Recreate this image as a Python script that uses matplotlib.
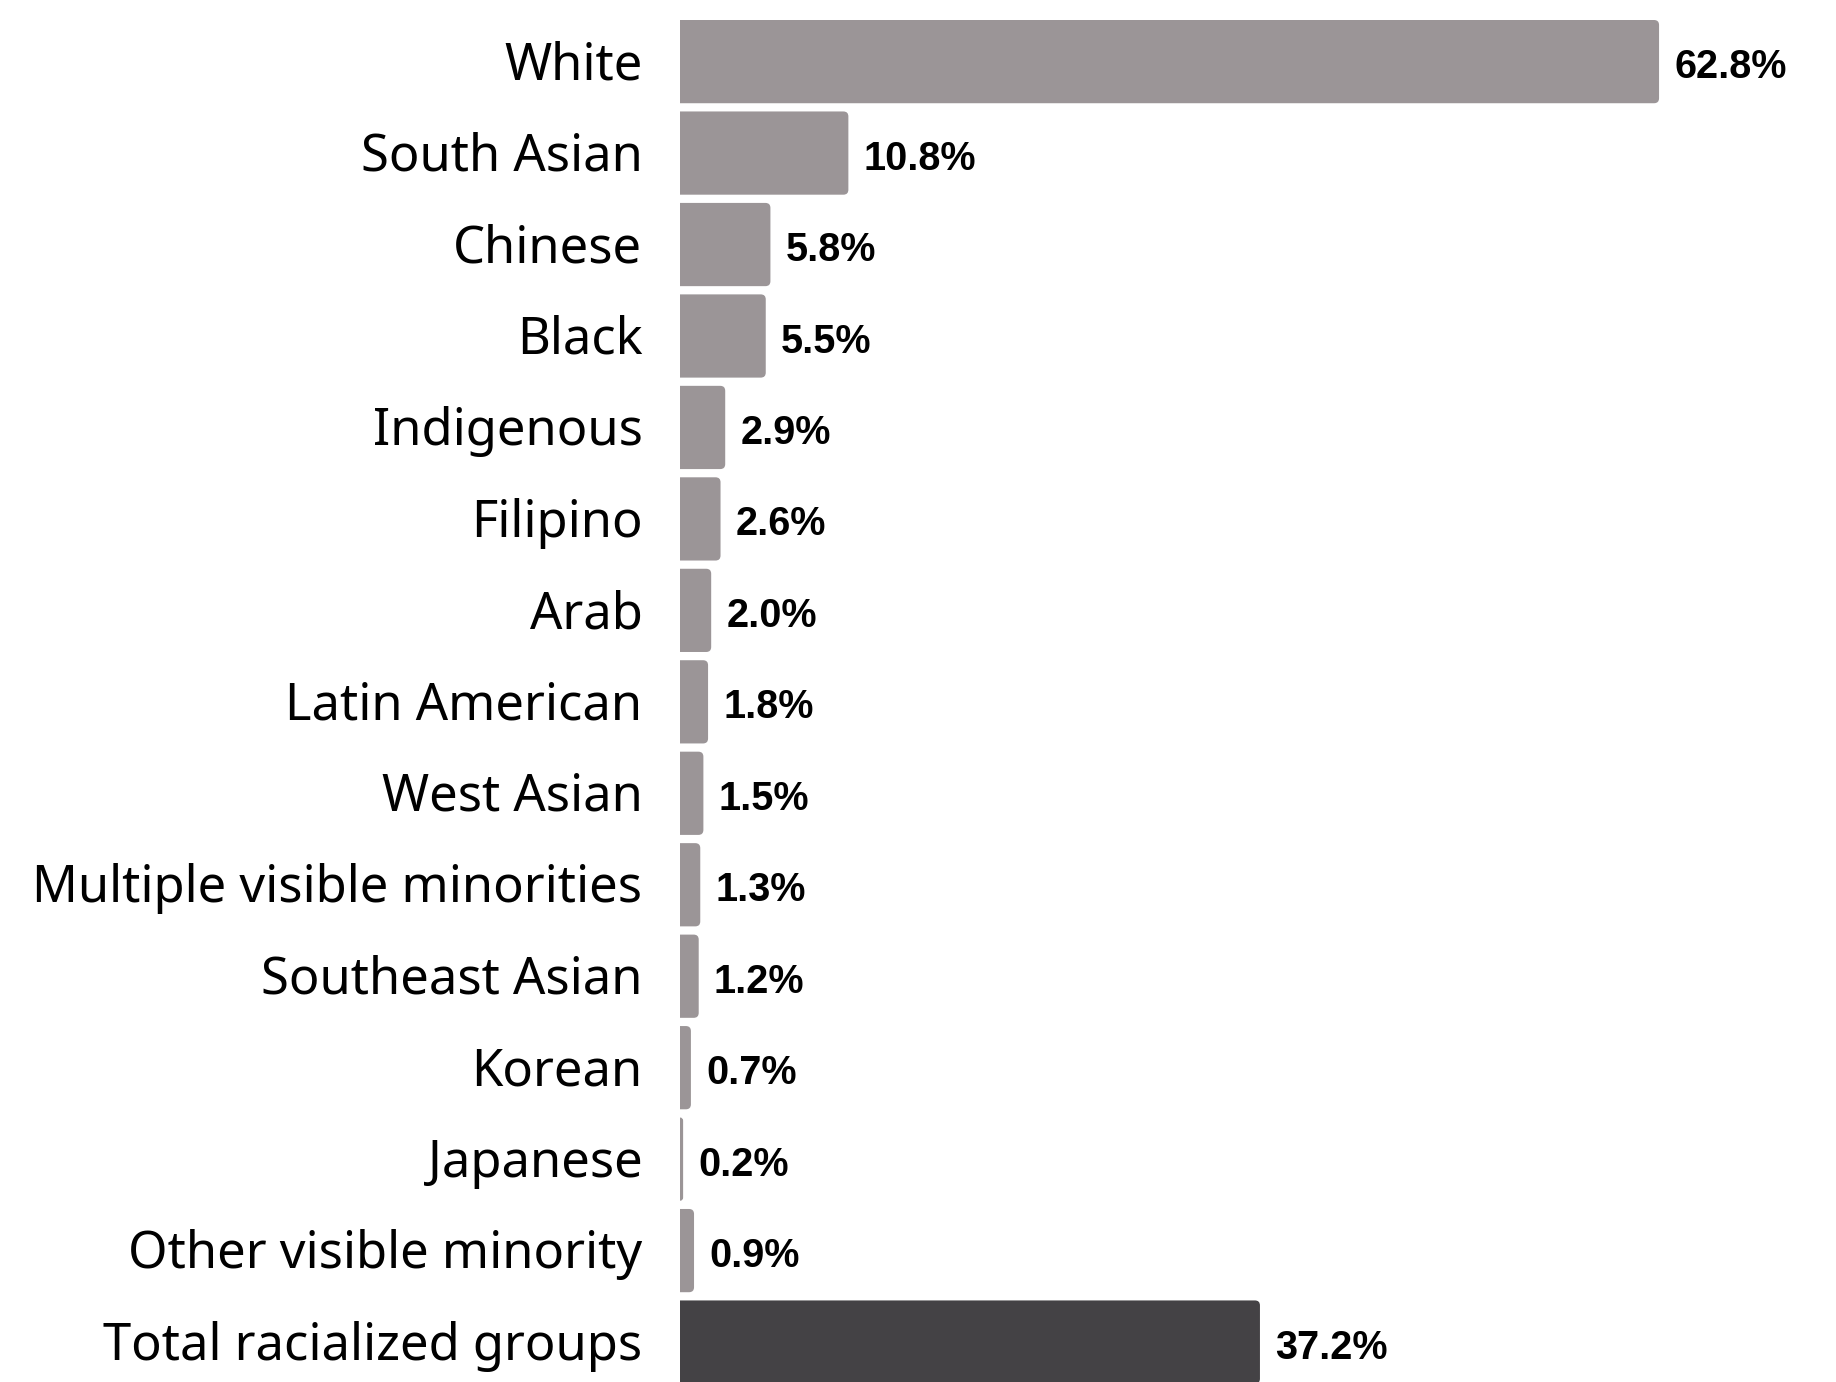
import matplotlib
matplotlib.use("Agg")
import matplotlib.pyplot as plt
from matplotlib.patches import FancyBboxPatch

# data
groups = ["White", "South Asian", "Chinese", "Black", "Indigenous", "Filipino", "Arab",
          "Latin American", "West Asian", "Multiple visible minorities", "Southeast Asian",
          "Korean", "Japanese", "Other visible minority", "Total racialized groups"]
shares = [62.8, 10.8, 5.8, 5.5, 2.9, 2.6, 2.0, 1.8, 1.5, 1.3, 1.2, 0.7, 0.2, 0.9, 37.2]

bar_color = "#9b9597"
total_color = "#444245"
label_font = "Noto Sans"
value_font = "Liberation Sans"

W, H = 1836, 1382
fig = plt.figure(figsize=(W / 100, H / 100), dpi=100)

left = 680 / W
pitch = 91.46      # px per row
px_per_unit = 15.59  # px per percent
ax = fig.add_axes([left, 0, 1 - left, 1])

n = len(groups)
ypos = list(range(n))
colors = [bar_color] * (n - 1) + [total_color]
bars = ax.barh(ypos, shares, height=0.91, color=colors)
ax.set_ylim(-20 / pitch - 0.455 + H / pitch, -20 / pitch - 0.455)
ax.set_xlim(0, (W - 680) / px_per_unit)

# swap the plain rectangles for ones with softly rounded right corners
r = 5 / px_per_unit
aspect = (5 / pitch) / r
for b in bars:
    x0, y0, w, h = b.get_x(), b.get_y(), b.get_width(), b.get_height()
    rr = min(r, w)
    fb = FancyBboxPatch((x0 - rr, y0), w + rr, h,
                        boxstyle=f"round,pad=0,rounding_size={rr}",
                        mutation_aspect=aspect, facecolor=b.get_facecolor(),
                        edgecolor="none")
    b.set_visible(False)
    ax.add_patch(fb)

for y, v, name in zip(ypos, shares, groups):
    ax.annotate(f"{v:.1f}%", (v, y), xytext=(11, -4), textcoords="offset points",
                ha="left", va="center", fontsize=28.5, fontweight="bold",
                family=value_font, color="black")
    ax.annotate(name, (0, y), xytext=(-27, -3), textcoords="offset points",
                ha="right", va="center", fontsize=36.5, family=label_font,
                color="black", annotation_clip=False)

ax.axis("off")

fig.savefig("out.png", dpi=100, facecolor="white")
